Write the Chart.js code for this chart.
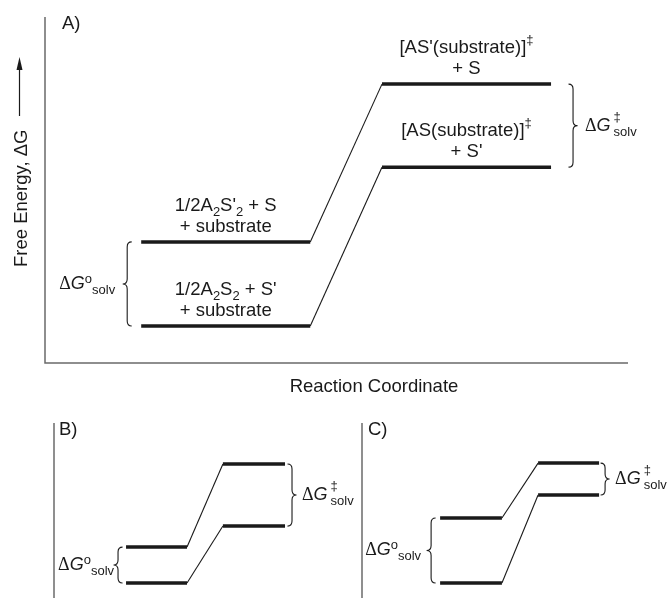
<!DOCTYPE html>
<html>
<head>
<meta charset="utf-8">
<script src="https://cdn.jsdelivr.net/npm/chart.js@4.4.1/dist/chart.umd.min.js"></script>
<style>
    html, body { margin: 0; padding: 0; background: #fff; }
    body { width: 669px; height: 598px; position: relative; overflow: hidden; }
    canvas { position: absolute; }
</style>
</head>
<body>
<canvas id="chartA" width="669" height="400" style="left:0;top:0"></canvas>
<canvas id="chartB" width="362" height="198" style="left:0;top:400px"></canvas>
<canvas id="chartC" width="329" height="198" style="left:340px;top:400px"></canvas>
<script>
// Reaction coordinate (0-10): start/end of reactant plateau, start/end of TS plateau
const coordA = [1.65, 4.55, 5.78, 8.68];
const coordB = [2.61, 4.82, 6.12, 8.37];
const coordC = [2.83, 5.07, 6.38, 8.59];

// Free energy (arbitrary units, 0-10): upper path and lower path
const upperA = [3.50, 3.50, 8.06, 8.06];
const lowerA = [1.07, 1.07, 5.66, 5.66];
const upperB = [2.91, 2.91, 7.66, 7.66];
const lowerB = [0.86, 0.86, 4.11, 4.11];
const upperC = [4.57, 4.57, 7.71, 7.71];
const lowerC = [0.86, 0.86, 5.89, 5.89];

const axisTitleX = 'Reaction Coordinate';
const axisTitleY = 'Free Energy, \u0394G';

// level labels for panel A, as [text, 'sub'|'sup'|''] runs
const upperStartLabel = [[['1/2A', ''], ['2', 'sub'], ["S'", ''], ['2', 'sub'], [' + S', '']], [['+ substrate', '']]];
const lowerStartLabel = [[['1/2A', ''], ['2', 'sub'], ['S', ''], ['2', 'sub'], [" + S'", '']], [['+ substrate', '']]];
const upperEndLabel = [[["[AS'(substrate)]", ''], ['\u2021', 'sup']], [['+ S', '']]];
const lowerEndLabel = [[['[AS(substrate)]', ''], ['\u2021', 'sup']], [["+ S'", '']]];

const SANS = '"Liberation Sans", Arial, sans-serif';
const SERIF = '"Liberation Serif", "Times New Roman", serif';
const INK = '#1a1a1a';

function drawRuns(ctx, runs, x, y, align) {
    const fontFor = k => (k ? '13px ' : '18.5px ') + SANS;
    const dyFor = k => k === 'sub' ? 5 : (k === 'sup' ? -9 : 0);
    let w = 0;
    runs.forEach(([t, k]) => { ctx.font = fontFor(k); w += ctx.measureText(t).width; });
    let cx = align === 'center' ? x - w / 2 : (align === 'right' ? x - w : x);
    ctx.textAlign = 'left';
    ctx.textBaseline = 'alphabetic';
    runs.forEach(([t, k]) => {
        ctx.font = fontFor(k);
        ctx.fillText(t, cx, y + dyFor(k));
        cx += ctx.measureText(t).width + (k === 'sup' ? 0 : 0);
    });
}

// "ΔG‡solv" (stacked) or "ΔGosolv" (sequential)
function drawDeltaG(ctx, x, y, kind, align) {
    const parts = [
        ['\u0394', '18px ' + SERIF, 0],
        ['G', 'italic 18px ' + SANS, 0],
    ];
    const small = '13px ' + SANS;
    ctx.font = small;
    const solvW = ctx.measureText('solv').width;
    const oW = ctx.measureText('o').width;
    let w = 0;
    parts.forEach(p => { ctx.font = p[1]; w += ctx.measureText(p[0]).width; });
    const tail = kind === 'ts' ? 3 + solvW : oW + solvW;
    let cx = align === 'right' ? x - (w + tail) : x;
    ctx.textAlign = 'left';
    ctx.textBaseline = 'alphabetic';
    parts.forEach(p => { ctx.font = p[1]; ctx.fillText(p[0], cx, y); cx += ctx.measureText(p[0]).width; });
    ctx.font = small;
    if (kind === 'ts') {
        cx += 3;
        ctx.fillText('\u2021', cx, y - 10);
        ctx.fillText('solv', cx, y + 5);
    } else {
        ctx.fillText('o', cx, y - 6);
        ctx.fillText('solv', cx + oW, y + 5);
    }
}

function drawBrace(ctx, x, y1, y2, dir) {
    const w = 4.5 * dir, r = 5, ym = (y1 + y2) / 2;
    ctx.beginPath();
    ctx.moveTo(x - w, y1);
    ctx.quadraticCurveTo(x, y1, x, y1 + r);
    ctx.lineTo(x, ym - r);
    ctx.quadraticCurveTo(x, ym, x + w, ym);
    ctx.quadraticCurveTo(x, ym, x, ym + r);
    ctx.lineTo(x, y2 - r);
    ctx.quadraticCurveTo(x, y2, x - w, y2);
    ctx.stroke();
}

function diagramPlugin(p) {
    return {
        id: 'diagram' + p.name,
        beforeDatasetsDraw(chart) {
            const { ctx, chartArea: a } = chart;
            ctx.save();
            ctx.strokeStyle = '#6a6a6a';
            ctx.lineWidth = 1.5;
            ctx.beginPath();
            ctx.moveTo(a.left, a.top);
            ctx.lineTo(a.left, a.bottom);
            if (p.xAxis) ctx.lineTo(a.right, a.bottom);
            ctx.stroke();
            ctx.restore();
        },
        afterDatasetsDraw(chart) {
            const { ctx, chartArea: a, scales: { x, y } } = chart;
            const px = v => x.getPixelForValue(v);
            const py = v => y.getPixelForValue(v);
            ctx.save();
            ctx.fillStyle = INK;
            ctx.strokeStyle = INK;

            ctx.font = '18.5px ' + SANS;
            ctx.textAlign = 'left';
            ctx.textBaseline = 'alphabetic';
            ctx.fillText(p.name, a.left + p.nameDx, a.top + 12);

            // ΔG‡ brace at the transition states
            ctx.lineWidth = 1.1;
            const tx = px(p.coord[3]) + p.tsBrace;
            drawBrace(ctx, tx, py(p.upper[3]), py(p.lower[3]), 1);
            drawDeltaG(ctx, tx + p.tsText, (py(p.upper[3]) + py(p.lower[3])) / 2 + 5, 'ts', 'left');

            // ΔGo brace at the reactants
            const gx = px(p.coord[0]) - p.gBrace;
            drawBrace(ctx, gx, py(p.upper[0]), py(p.lower[0]), -1);
            drawDeltaG(ctx, gx - p.gText, (py(p.upper[0]) + py(p.lower[0])) / 2 + 5, 'o', 'right');

            if (p.levelLabels) {
                const sx = px((p.coord[0] + p.coord[1]) / 2);
                const ex = px((p.coord[2] + p.coord[3]) / 2);
                [[upperStartLabel, sx, p.upper[0]], [lowerStartLabel, sx, p.lower[0]],
                 [upperEndLabel, ex, p.upper[3]], [lowerEndLabel, ex, p.lower[3]]].forEach(([lines, cx, lvl]) => {
                    drawRuns(ctx, lines[0], cx, py(lvl) - 31, 'center');
                    drawRuns(ctx, lines[1], cx, py(lvl) - 10, 'center');
                });
            }

            if (p.xAxis) {
                ctx.font = '18.5px ' + SANS;
                ctx.textAlign = 'center';
                ctx.fillText(axisTitleX, 374, a.bottom + 29);

                // rotated y title with arrow
                ctx.save();
                ctx.translate(27, 267);
                ctx.rotate(-Math.PI / 2);
                ctx.textAlign = 'left';
                ctx.fillText(axisTitleY, 0, 0);
                ctx.restore();
                ctx.lineWidth = 1.2;
                ctx.beginPath();
                ctx.moveTo(19.5, 116);
                ctx.lineTo(19.5, 66);
                ctx.stroke();
                ctx.beginPath();
                ctx.moveTo(19.5, 57);
                ctx.lineTo(16.5, 70);
                ctx.lineTo(22.5, 70);
                ctx.closePath();
                ctx.fill();
            }
            ctx.restore();
        }
    };
}

function series(coord, vals) {
    return {
        data: coord.map((c, i) => ({ x: c, y: vals[i] })),
        borderColor: INK,
        borderWidth: 3.5,
        borderCapStyle: 'butt',
        pointRadius: 0,
        tension: 0,
        fill: false,
        segment: {
            borderWidth: ctx => ctx.p0DataIndex === 1 ? 1.1 : 3.5,
        },
    };
}

function makePanel(id, p) {
    return new Chart(document.getElementById(id), {
        type: 'line',
        data: { datasets: [series(p.coord, p.upper), series(p.coord, p.lower)] },
        options: {
            responsive: false,
            animation: false,
            layout: { padding: p.padding },
            plugins: { legend: { display: false }, tooltip: { enabled: false } },
            scales: {
                x: { type: 'linear', min: 0, max: 10, display: false },
                y: { type: 'linear', min: 0, max: 10, display: false },
            },
        },
        plugins: [diagramPlugin(p)],
    });
}

makePanel('chartA', {
    name: 'A)', coord: coordA, upper: upperA, lower: lowerA,
    padding: { left: 45, top: 17, right: 41, bottom: 37 },
    nameDx: 17, tsBrace: 22, tsText: 12, gBrace: 14, gText: 12,
    levelLabels: true, xAxis: true,
});
makePanel('chartB', {
    name: 'B)', coord: coordB, upper: upperB, lower: lowerB,
    padding: { left: 54, top: 23, right: 32, bottom: 0 },
    nameDx: 5, tsBrace: 7, tsText: 10, gBrace: 8, gText: 4,
});
makePanel('chartC', {
    name: 'C)', coord: coordC, upper: upperC, lower: lowerC,
    padding: { left: 22, top: 23, right: 31, bottom: 0 },
    nameDx: 6, tsBrace: 6, tsText: 10, gBrace: 9, gText: 10,
});
</script>
</body>
</html>
